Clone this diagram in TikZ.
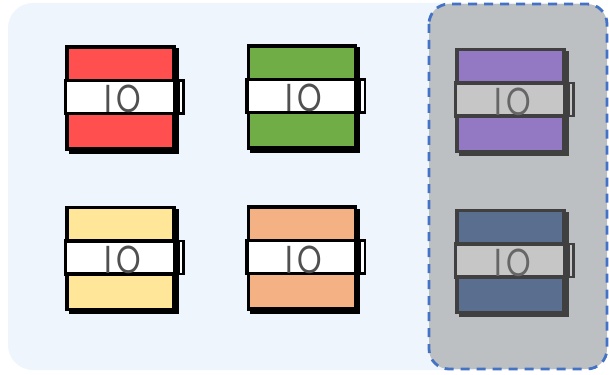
\documentclass[tikz,border=0pt]{standalone}
\usepackage{fontspec}
\newfontfamily\iofont{Poppins}
\definecolor{bgblue}{HTML}{EEF5FC}
\definecolor{grpgray}{HTML}{BDC0C3}
\definecolor{grpline}{HTML}{4472C4}
\definecolor{cred}{HTML}{FF4F4F}
\definecolor{cgreen}{HTML}{70AD47}
\definecolor{ccream}{HTML}{FFE699}
\definecolor{corange}{HTML}{F4B183}
\definecolor{cpurple}{HTML}{9378C4}
\definecolor{cnavy}{HTML}{5A6E8F}
\definecolor{dline}{HTML}{404040}
\definecolor{dband}{HTML}{C6C6C6}
\definecolor{ltext}{HTML}{505050}
\definecolor{dtext}{HTML}{666666}
\tikzset{
  boxbody/.style={draw=#1, line width=3.2pt, minimum width=107pt, minimum height=102pt, inner sep=0pt},
  boxshadow/.style={fill=#1, draw=none, minimum width=110pt, minimum height=105pt, inner sep=0pt},
  bandbox/.style={draw=#1, line width=3.2pt, minimum width=109pt, minimum height=33pt, inner sep=0pt},
  tabbox/.style={draw=#1, line width=2.8pt, minimum width=5pt, minimum height=33pt, inner sep=0pt, anchor=west},
  iolabel/.style={font=\iofont\fontsize{39}{39}\selectfont, inner sep=0pt, anchor=base},
}
% #1 name, #2 x, #3 y (center), #4 fill, #5 line, #6 band fill, #7 text color
\newcommand{\ioBlock}[7]{%
  \node[boxshadow=#5] (#1-sh) at (#2+3,#3+3) {};
  \node[boxbody=#5, fill=#4] (#1) at (#2,#3) {};
  \node[bandbox=#5, fill=#6] (#1-band) at (#2-0.5,#3-1) {};
  \node[tabbox=#5, fill=#6] (#1-tab) at ([xshift=1pt]#1-band.east) {};
  \node[iolabel, text=#7] (#1-txt) at (#2+2,#3+15) {\scalebox{0.8}[1]{I\kern6pt O}};
}
\begin{document}
\begin{tikzpicture}[x=1pt,y=-1pt]
\useasboundingbox (0,0) rectangle (609,374);
\fill[bgblue, rounded corners=25pt] (8,3) rectangle (600,370);
\draw[grpline, fill=grpgray, line width=2.8pt, dash pattern=on 9pt off 7pt, rounded corners=20pt] (429,4) rectangle (607,369);
\ioBlock{red}{120.5}{98}{cred}{black}{white}{ltext}
\ioBlock{green}{302}{97}{cgreen}{black}{white}{ltext}
\ioBlock{cream}{120.5}{258.5}{ccream}{black}{white}{ltext}
\ioBlock{orange}{302}{258}{corange}{black}{white}{ltext}
\ioBlock{purple}{510.5}{100.5}{cpurple}{dline}{dband}{dtext}
\ioBlock{navy}{510.5}{261.5}{cnavy}{dline}{dband}{dtext}
\end{tikzpicture}
\end{document}
